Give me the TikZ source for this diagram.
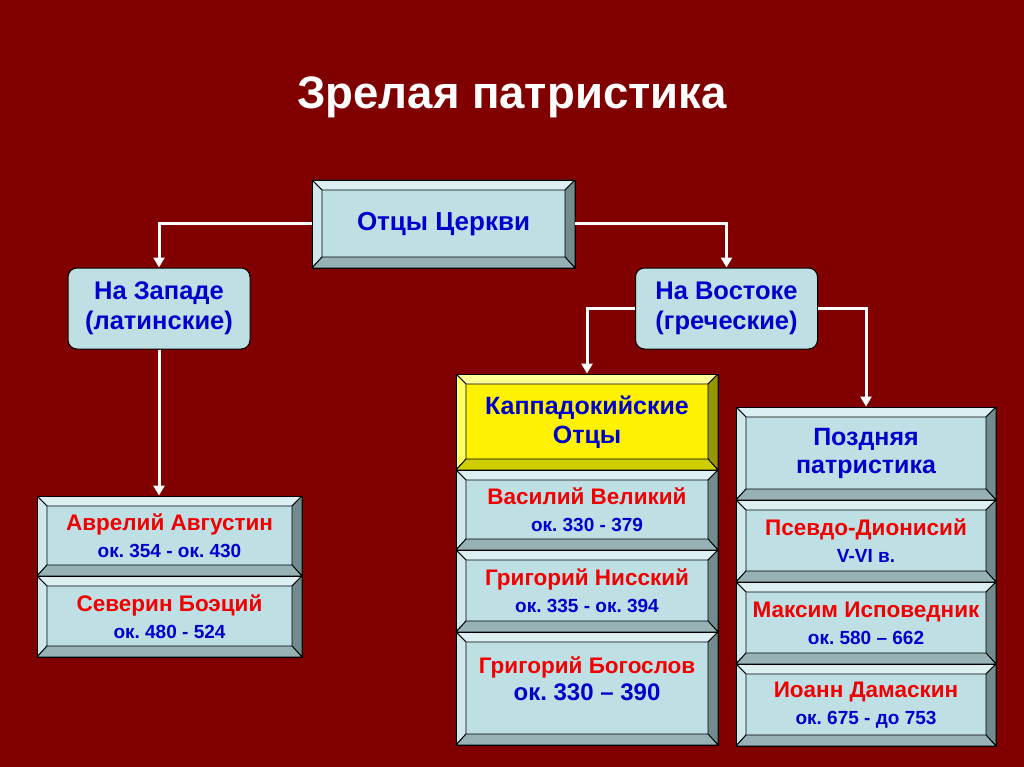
\documentclass[tikz,border=0pt]{standalone}
\usepackage{fontspec}
\setmainfont{Liberation Sans}
\usetikzlibrary{arrows.meta}
\frenchspacing

\definecolor{slidered}{RGB}{128,0,0}
\definecolor{boxfill}{RGB}{190,224,228}
\definecolor{boxlight}{RGB}{220,240,242}
\definecolor{boxside}{RGB}{206,232,235}
\definecolor{boxdark}{RGB}{113,139,142}
\definecolor{boxbottom}{RGB}{150,178,181}
\definecolor{ylwlight}{RGB}{255,255,150}
\definecolor{ylwside}{RGB}{255,255,100}
\definecolor{ylwdark}{RGB}{150,150,0}
\definecolor{ylwbottom}{RGB}{205,205,0}
\definecolor{textblue}{RGB}{0,0,204}
\definecolor{namered}{RGB}{240,0,0}

\tikzset{
  bevel/.style n args={4}{draw=black,line width=0.9pt,rectangle,inner sep=0pt,align=center,
    path picture={
      \coordinate (bnw) at (path picture bounding box.north west);
      \coordinate (bne) at (path picture bounding box.north east);
      \coordinate (bsw) at (path picture bounding box.south west);
      \coordinate (bse) at (path picture bounding box.south east);
      \filldraw[fill=#1,draw=black,line width=0.9pt] (bnw) -- (bne) -- ([shift={(-10pt,-10pt)}]bne) -- ([shift={(10pt,-10pt)}]bnw) -- cycle;
      \filldraw[fill=#2,draw=black,line width=0.9pt] (bnw) -- ([shift={(10pt,-10pt)}]bnw) -- ([shift={(10pt,11pt)}]bsw) -- (bsw) -- cycle;
      \filldraw[fill=#3,draw=black,line width=0.9pt] (bne) -- (bse) -- ([shift={(-10pt,11pt)}]bse) -- ([shift={(-10pt,-10pt)}]bne) -- cycle;
      \filldraw[fill=#4,draw=black,line width=0.9pt] (bsw) -- (bse) -- ([shift={(-10pt,11pt)}]bse) -- ([shift={(10pt,11pt)}]bsw) -- cycle;
    }},
  bluebox/.style={bevel={boxlight}{boxside}{boxdark}{boxbottom},fill=boxfill},
  yellowbox/.style={bevel={ylwlight}{ylwside}{ylwdark}{ylwbottom},fill=yellow},
  roundbox/.style={draw=black,line width=1pt,fill=boxfill,rounded corners=9pt,align=center,
    minimum width=182pt,minimum height=81pt,text=textblue,font=\fontsize{25.5}{30}\selectfont\bfseries},
  person/.style={text=textblue,font=\fontsize{22.5}{27}\selectfont\bfseries},
  header/.style={text=textblue,font=\fontsize{25}{28.5}\selectfont\bfseries},
  conn/.style={white,line width=3pt,-{Triangle[length=10pt,width=11pt]}}
}
\newcommand{\dates}[1]{{\fontsize{19}{22}\selectfont #1}}

\begin{document}
\begin{tikzpicture}[x=1pt,y=-1pt]
\fill[slidered] (0,0) rectangle (1024,767);
\useasboundingbox (0,0) rectangle (1024,767);

% title
\node[text=white,font=\fontsize{45.5}{50}\selectfont\bfseries] (title) at (512,97) {Зрелая патристика};

% top level
\node[bluebox,header,minimum width=263pt,minimum height=88pt,font=\fontsize{26}{30}\selectfont\bfseries] (otcy) at (443.5,224) {Отцы Церкви};
\node[roundbox] (zapad) at (159,308.5) {На Западе\\(латинские)};
\node[roundbox] (vostok) at (726.5,308.5) {На Востоке\\(греческие)};

% west
\node[bluebox,person,minimum width=265pt,minimum height=80pt] (avgustin) at (169.5,536) {\textcolor{namered}{Аврелий Августин}\\\dates{ок. 354 - ок. 430}};
\node[bluebox,person,minimum width=265pt,minimum height=81pt] (boetsiy) at (169.5,616.5) {\textcolor{namered}{Северин Боэций}\\\dates{ок. 480 - 524}};

% east, cappadocians
\node[yellowbox,header,minimum width=262pt,minimum height=96pt] (kappa) at (587,422) {Каппадокийские\\Отцы};
\node[bluebox,person,minimum width=262pt,minimum height=80pt] (vasiliy) at (587,510) {\textcolor{namered}{Василий Великий}\\\dates{ок. 330 - 379}};
\node[bluebox,person,minimum width=262pt,minimum height=82pt] (nissky) at (587,591) {\textcolor{namered}{Григорий Нисский}\\\dates{ок. 335 - ок. 394}};
\node[bluebox,person,minimum width=262pt,minimum height=113pt] (bogoslov) at (587,688.5) {\textcolor{namered}{Григорий Богослов}\\{\fontsize{24}{27}\selectfont ок. 330 – 390}\\[-8pt]\mbox{}};

% east, late patristics
\node[bluebox,header,minimum width=260pt,minimum height=93pt] (pozdn) at (866,453.5) {Поздняя\\патристика};
\node[bluebox,person,minimum width=260pt,minimum height=82pt] (dionis) at (866,541) {\textcolor{namered}{Псевдо-Дионисий}\\\dates{V-VI в.}};
\node[bluebox,person,minimum width=260pt,minimum height=82pt] (maksim) at (866,623) {\textcolor{namered}{Максим Исповедник}\\\dates{ок. 580 – 662}};
\node[bluebox,person,minimum width=260pt,minimum height=82pt] (ioann) at (866,705) {\textcolor{namered}{Иоанн Дамаскин}\\\dates{ок. 675 - до 753}};

% connectors
\draw[conn] (otcy.west) -| (zapad.north);
\draw[conn] (otcy.east) -| (vostok.north);
\draw[conn] (zapad.south) -- (zapad.south |- avgustin.north);
\draw[conn] (vostok.west) -| (kappa.north);
\draw[conn] (vostok.east) -| (pozdn.north);
\end{tikzpicture}
\end{document}
